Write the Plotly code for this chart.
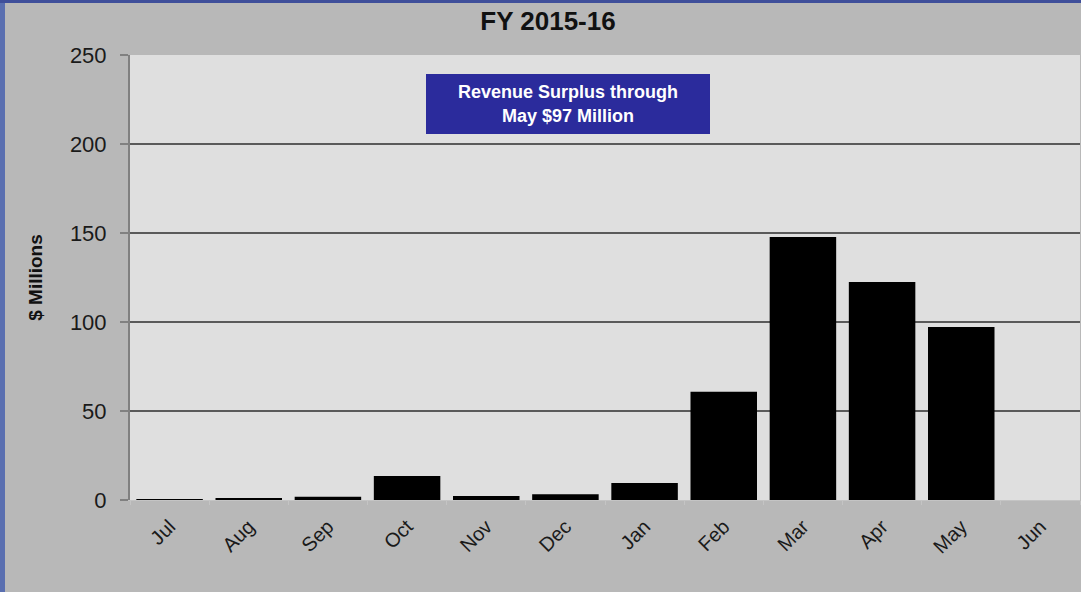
import plotly.graph_objects as go

months = ["Jul", "Aug", "Sep", "Oct", "Nov", "Dec", "Jan", "Feb", "Mar", "Apr", "May", "Jun"]
surplus = [0.3, 0.6, 1.8, 13.5, 2.2, 3.2, 9.5, 60.8, 147.8, 122.5, 97.2, 0]
y_ticks = [0, 50, 100, 150, 200, 250]

W, H = 1081, 592
ML, MR, MT, MB = 130, 1, 55, 92
PW = W - ML - MR
PH = H - MT - MB

FONT = "Liberation Sans, Arial, Helvetica, sans-serif"

fig = go.Figure()
fig.add_trace(go.Bar(
    x=months, y=surplus,
    marker=dict(color="#000000", line=dict(width=0)),
    width=0.84,
))

def px_x(p):
    return (p - ML) / PW

def px_y(p):
    return (H - MB - p) / PH

shapes = [
    # blue frame: left and top
    dict(type="rect", xref="paper", yref="paper", layer="above",
         x0=px_x(0), x1=px_x(5), y0=px_y(H), y1=px_y(0),
         fillcolor="#5a6fb0", line=dict(width=0)),
    dict(type="rect", xref="paper", yref="paper", layer="above",
         x0=px_x(0), x1=px_x(W), y0=px_y(3), y1=px_y(0),
         fillcolor="#3f4f9a", line=dict(width=0)),
]

fig.update_layout(
    width=W, height=H,
    margin=dict(l=ML, r=MR, t=MT, b=MB),
    paper_bgcolor="#b8b8b8",
    plot_bgcolor="#dfdfdf",
    showlegend=False,
    bargap=0.16,
    font=dict(family=FONT, color="#1a1a1a"),
    title=dict(text="<b>FY 2015-16</b>", x=548 / W, xanchor="center",
               y=1 - 21 / H, yanchor="middle", xref="container", yref="container",
               font=dict(size=26, family=FONT, color="#111111")),
    xaxis=dict(
        type="category", categoryorder="array", categoryarray=months,
        tickangle=-45, tickfont=dict(size=20, family=FONT, color="#1a1a1a"),
        showgrid=False, showline=True, linecolor="#c4c4c4", linewidth=1,
        ticks="outside", tickson="boundaries", ticklen=4, tickcolor="#c4c4c4",
        ticklabelstandoff=6,
        range=[-0.5, 11.5],
    ),
    yaxis=dict(
        range=[0, 250], tickvals=y_ticks, ticktext=[str(v) for v in y_ticks],
        tickfont=dict(size=22, family=FONT, color="#1a1a1a"),
        showgrid=True, gridcolor="#5a5a5a", gridwidth=1.5,
        showline=True, linecolor="#808080", linewidth=2,
        ticks="outside", ticklen=8, tickcolor="#808080", tickwidth=2,
        ticklabelstandoff=9,
        zeroline=False,
        title=dict(text="<b>$ Millions</b>", font=dict(size=19, family=FONT, color="#111111"),
                   standoff=22),
    ),
    shapes=shapes,
    annotations=[
        dict(
            text="<b>Revenue Surplus through<br>May $97 Million</b>",
            xref="paper", yref="paper",
            x=px_x(568), y=px_y(104), xanchor="center", yanchor="middle",
            showarrow=False, align="center",
            font=dict(size=18, family=FONT, color="#ffffff"),
            bgcolor="#2b2b9c", bordercolor="#2b2b9c", borderwidth=1,
            width=280, height=56,
        )
    ],
)

fig.write_html(
    "out.html",
    config={"displayModeBar": False},
    post_script="document.body.style.margin='0';document.body.style.overflow='hidden';",
)
